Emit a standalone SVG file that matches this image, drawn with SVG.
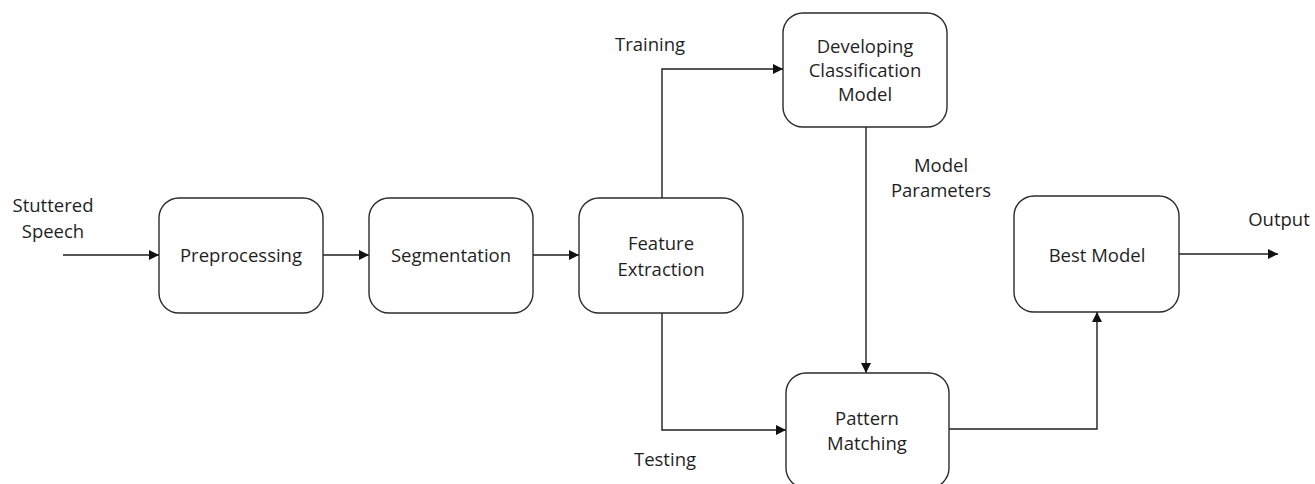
<svg xmlns="http://www.w3.org/2000/svg" width="1315" height="484" viewBox="0 0 1315 484">
  <style>
    .box { fill: #ffffff; stroke: #2b2b2b; stroke-width: 1.4; }
    .lbl { font-family: "Open Sans", "Liberation Sans", sans-serif; font-size: 18.5px; fill: #1f1f1f; text-anchor: middle; }
    .edge { fill: none; stroke: #1f1f1f; stroke-width: 1.4; }
  </style>
  <defs>
    <marker id="arrow" viewBox="0 0 10 10" refX="10" refY="5" markerWidth="10" markerHeight="10" markerUnits="userSpaceOnUse" orient="auto">
      <path d="M0,0 L10,5 L0,10 z" fill="#111111"/>
    </marker>
  </defs>
  <rect width="1315" height="484" fill="#ffffff"/>

  <!-- connectors -->
  <g id="connectors">
    <path class="edge" d="M63,255 H159" marker-end="url(#arrow)"/>
    <path class="edge" d="M323,255 H369" marker-end="url(#arrow)"/>
    <path class="edge" d="M533,255 H579" marker-end="url(#arrow)"/>
    <path class="edge" d="M662,198 V69 H783" marker-end="url(#arrow)"/>
    <path class="edge" d="M662,313 V430 H786" marker-end="url(#arrow)"/>
    <path class="edge" d="M866,127 V373" marker-end="url(#arrow)"/>
    <path class="edge" d="M949,429 H1097 V312" marker-end="url(#arrow)"/>
    <path class="edge" d="M1179,254 H1278" marker-end="url(#arrow)"/>
  </g>

  <!-- edge labels -->
  <g id="labels">
    <text class="lbl" x="53" y="212">Stuttered</text>
    <text class="lbl" x="53" y="238">Speech</text>
    <text class="lbl" x="650" y="51">Training</text>
    <text class="lbl" x="665" y="466">Testing</text>
    <text class="lbl" x="941" y="172">Model</text>
    <text class="lbl" x="941" y="197">Parameters</text>
    <text class="lbl" x="1279" y="226">Output</text>
  </g>

  <g id="preprocessing">
    <rect class="box" x="159" y="198" width="164" height="115" rx="20"/>
    <text class="lbl" x="241" y="262">Preprocessing</text>
  </g>
  <g id="segmentation">
    <rect class="box" x="369" y="198" width="164" height="115" rx="20"/>
    <text class="lbl" x="451" y="262">Segmentation</text>
  </g>
  <g id="feature-extraction">
    <rect class="box" x="579" y="198" width="164" height="115" rx="20"/>
    <text class="lbl" x="661" y="250">Feature</text>
    <text class="lbl" x="661" y="276">Extraction</text>
  </g>
  <g id="classification-model">
    <rect class="box" x="783" y="13" width="164" height="114" rx="20"/>
    <text class="lbl" x="865" y="53">Developing</text>
    <text class="lbl" x="865" y="77">Classification</text>
    <text class="lbl" x="865" y="101">Model</text>
  </g>
  <g id="pattern-matching">
    <rect class="box" x="786" y="373" width="163" height="115" rx="20"/>
    <text class="lbl" x="867" y="425">Pattern</text>
    <text class="lbl" x="867" y="450">Matching</text>
  </g>
  <g id="best-model">
    <rect class="box" x="1014" y="196" width="165" height="116" rx="20"/>
    <text class="lbl" x="1097" y="262">Best Model</text>
  </g>
</svg>
